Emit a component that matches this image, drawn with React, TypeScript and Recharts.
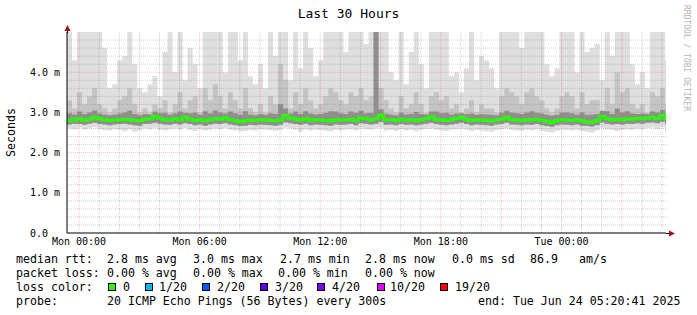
import { ComposedChart, Area, Line, XAxis, YAxis, ReferenceLine } from 'recharts';

// 15 minute buckets starting just before Mon 00:00 (hours relative to Mon 00:00)
const startHour = -0.6;
const stepHours = 0.25;
const endHour = 29.2;

// smoke: top of the lightest band (5 = clipped at top of graph), in ms
const maxRtt = [
  5, 4.3, 5, 5, 5, 5, 5, 4.6, 3.6, 3.7,
  4.3, 4.4, 5, 4.2, 3.6, 3.5, 3.7, 3.9, 3.4, 4.5,
  5, 4.0, 5, 3.8, 4.6, 4.2, 3.6, 5, 5, 5,
  5, 4.0, 5, 5, 4.3, 5, 3.9, 3.7, 4.2, 3.6,
  5, 4.4, 5, 5, 3.8, 5, 4.1, 5, 4.6, 3.9,
  4.3, 5, 5, 5, 5, 4.5, 5, 5, 5, 4.7,
  5, 5, 5, 5, 4.0, 3.8, 5, 3.7, 4.5, 5,
  4.2, 3.6, 5, 5, 5, 5, 3.9, 4.0, 3.5, 4.1,
  5, 3.8, 4.4, 4.3, 4.1, 3.6, 5, 5, 5, 5,
  4.6, 5, 5, 5, 5, 4.2, 3.9, 4.1, 5, 5,
  5, 4.0, 5, 4.5, 4.6, 4.7, 3.8, 5, 4.4, 5,
  5, 5, 4.2, 3.7, 4.0, 3.6, 5, 5, 5, 4.3,
];

const hiRtt = [
  3.3, 3.1, 3.5, 3.2, 3.4, 3.6, 3.2, 3.1, 3.0, 3.1,
  3.3, 3.4, 3.6, 3.2, 3.0, 3.1, 3.0, 3.2, 3.1, 3.3,
  3.0, 3.2, 3.5, 3.1, 3.3, 3.4, 3.0, 3.6, 3.3, 3.7,
  3.4, 3.1, 3.5, 3.3, 3.1, 3.6, 3.1, 3.0, 3.2, 3.0,
  3.4, 3.2, 4.2, 3.8, 3.1, 3.5, 3.2, 3.6, 3.3, 3.1,
  3.2, 3.4, 3.6, 3.5, 3.3, 3.2, 3.5, 3.4, 3.6, 3.3,
  3.4, 5.0, 3.6, 3.3, 3.1, 3.0, 3.4, 3.1, 3.2, 3.5,
  3.2, 3.0, 3.4, 3.5, 3.3, 3.4, 3.1, 3.2, 3.0, 3.1,
  3.3, 3.0, 3.2, 3.1, 3.1, 3.0, 3.4, 3.6, 3.5, 3.4,
  3.2, 3.5, 3.6, 3.4, 3.3, 3.1, 3.0, 3.1, 3.4, 3.5,
  3.4, 3.1, 3.5, 3.2, 3.3, 3.3, 3.0, 3.6, 3.2, 4.0,
  3.5, 3.6, 3.2, 3.1, 3.2, 3.0, 3.5, 3.4, 3.6, 3.2,
];

const p75 = [
  2.98, 2.95, 3.02, 2.96, 3.00, 3.05, 2.97, 2.95, 2.93, 2.95,
  2.97, 3.00, 3.05, 2.96, 2.93, 2.96, 2.95, 3.02, 2.98, 2.99,
  2.94, 2.98, 3.02, 2.99, 2.98, 3.00, 2.94, 3.03, 2.97, 3.05,
  3.00, 2.97, 3.02, 2.98, 2.94, 3.03, 2.95, 2.93, 2.96, 2.94,
  2.98, 2.96, 3.20, 3.10, 2.97, 3.02, 2.96, 3.03, 2.97, 2.95,
  2.96, 2.99, 3.03, 3.02, 2.98, 2.96, 3.02, 2.99, 3.04, 2.98,
  2.99, 5.00, 3.08, 2.97, 2.95, 2.93, 2.99, 2.95, 2.96, 3.01,
  2.96, 2.95, 3.02, 3.02, 2.98, 2.99, 2.95, 2.97, 2.98, 2.96,
  2.97, 2.94, 2.96, 2.95, 2.94, 2.93, 2.99, 3.04, 3.00, 2.98,
  2.96, 3.00, 3.03, 2.99, 2.97, 2.94, 2.92, 2.94, 2.99, 3.00,
  2.98, 2.95, 3.00, 2.94, 2.95, 2.96, 3.04, 3.03, 2.96, 3.10,
  3.00, 3.03, 2.97, 2.96, 2.97, 2.96, 3.02, 3.00, 3.06, 2.96,
];

const median = [
  2.80, 2.82, 2.84, 2.81, 2.83, 2.88, 2.84, 2.82, 2.80, 2.81,
  2.82, 2.83, 2.82, 2.80, 2.79, 2.83, 2.84, 2.90, 2.85, 2.82,
  2.81, 2.84, 2.82, 2.88, 2.83, 2.80, 2.82, 2.79, 2.82, 2.84,
  2.83, 2.87, 2.82, 2.80, 2.77, 2.79, 2.81, 2.80, 2.82, 2.81,
  2.80, 2.79, 2.81, 2.92, 2.86, 2.83, 2.81, 2.84, 2.80, 2.82,
  2.81, 2.80, 2.79, 2.82, 2.81, 2.82, 2.83, 2.80, 2.86, 2.84,
  2.82, 2.84, 2.93, 2.81, 2.82, 2.80, 2.83, 2.81, 2.82, 2.80,
  2.82, 2.84, 2.89, 2.83, 2.81, 2.80, 2.82, 2.85, 2.88, 2.83,
  2.80, 2.82, 2.81, 2.80, 2.79, 2.82, 2.83, 2.88, 2.82, 2.81,
  2.80, 2.82, 2.81, 2.83, 2.80, 2.78, 2.75, 2.80, 2.82, 2.81,
  2.80, 2.82, 2.79, 2.77, 2.76, 2.80, 2.90, 2.84, 2.82, 2.83,
  2.82, 2.84, 2.83, 2.85, 2.84, 2.86, 2.88, 2.85, 2.92, 2.83,
];

const p25 = [
  2.70, 2.72, 2.71, 2.69, 2.72, 2.74, 2.71, 2.70, 2.68, 2.70,
  2.71, 2.72, 2.70, 2.68, 2.67, 2.71, 2.72, 2.74, 2.72, 2.70,
  2.69, 2.72, 2.70, 2.73, 2.71, 2.68, 2.70, 2.67, 2.70, 2.72,
  2.71, 2.73, 2.70, 2.68, 2.66, 2.67, 2.69, 2.68, 2.70, 2.69,
  2.68, 2.67, 2.69, 2.75, 2.73, 2.71, 2.69, 2.72, 2.68, 2.70,
  2.69, 2.68, 2.67, 2.70, 2.69, 2.70, 2.71, 2.68, 2.73, 2.72,
  2.70, 2.72, 2.76, 2.69, 2.70, 2.68, 2.71, 2.69, 2.70, 2.68,
  2.70, 2.72, 2.74, 2.71, 2.69, 2.68, 2.70, 2.72, 2.74, 2.71,
  2.68, 2.70, 2.69, 2.68, 2.67, 2.70, 2.71, 2.74, 2.70, 2.69,
  2.68, 2.70, 2.69, 2.71, 2.68, 2.66, 2.64, 2.68, 2.70, 2.69,
  2.68, 2.70, 2.67, 2.66, 2.65, 2.68, 2.75, 2.72, 2.70, 2.71,
  2.70, 2.72, 2.71, 2.73, 2.72, 2.74, 2.75, 2.73, 2.77, 2.71,
];

const minRtt = [
  2.60, 2.58, 2.62, 2.57, 2.60, 2.63, 2.59, 2.56, 2.55, 2.58,
  2.57, 2.53, 2.58, 2.52, 2.55, 2.60, 2.58, 2.62, 2.56, 2.55,
  2.58, 2.60, 2.57, 2.61, 2.56, 2.54, 2.58, 2.55, 2.57, 2.60,
  2.58, 2.61, 2.57, 2.55, 2.53, 2.54, 2.56, 2.55, 2.58, 2.57,
  2.56, 2.54, 2.57, 2.62, 2.60, 2.57, 2.52, 2.58, 2.55, 2.57,
  2.56, 2.54, 2.53, 2.57, 2.55, 2.57, 2.58, 2.55, 2.60, 2.58,
  2.57, 2.60, 2.62, 2.55, 2.57, 2.54, 2.58, 2.55, 2.56, 2.53,
  2.57, 2.59, 2.60, 2.57, 2.55, 2.54, 2.57, 2.58, 2.60, 2.57,
  2.54, 2.57, 2.55, 2.53, 2.52, 2.56, 2.58, 2.60, 2.56, 2.55,
  2.54, 2.57, 2.55, 2.58, 2.54, 2.51, 2.50, 2.54, 2.57, 2.56,
  2.55, 2.57, 2.54, 2.52, 2.50, 2.55, 2.62, 2.58, 2.56, 2.54,
  2.56, 2.58, 2.57, 2.60, 2.58, 2.61, 2.62, 2.59, 2.63, 2.50,
];

const xTicks = [0, 6, 12, 18, 24];
const xTickLabels = ['Mon 00:00', 'Mon 06:00', 'Mon 12:00', 'Mon 18:00', 'Tue 00:00'];
const yTicks = [0, 1, 2, 3, 4];
const yTickLabels = ['0.0\u00a0\u00a0', '1.0 m', '2.0 m', '3.0 m', '4.0 m'];

const lossColors = ['#26ff00', '#00b8ff', '#0059ff', '#5e00ff', '#7e00ff', '#dd00ff', '#ff0000'];
const lossLabels = ['0', '1/20', '2/20', '3/20', '4/20', '10/20', '19/20'];

const rows: any[] = median.map((m, i) => ({
  t: startHour + i * stepHours,
  outer: [minRtt[i], maxRtt[i]],
  mid: [p25[i], hiRtt[i]],
  core: [p25[i], p75[i]],
  median: m,
}));
// close the last step at the right edge
rows.push({ ...rows[rows.length - 1], t: endHour });

const minorY: number[] = [];
for (let v = 0.2; v < 5; v += 0.2) {
  if (Math.abs(v - Math.round(v)) > 0.01) minorY.push(Math.round(v * 10) / 10);
}
const majorY = [1, 2, 3, 4];
const minorX: number[] = [];
const majorX: number[] = [];
for (let h = 0; h <= 29; h++) (h % 3 === 0 ? majorX : minorX).push(h);

const mono = '"DejaVu Sans Mono", monospace';

const legendRows: [number, string][][] = [
  [[16, 'median rtt:'], [107, '2.8 ms avg'], [193, '3.0 ms max'], [280, '2.7 ms min'], [365, '2.8 ms now'], [452, '0.0 ms sd'], [530, '86.9'], [579, 'am/s']],
  [[16, 'packet loss:'], [107, '0.00 % avg'], [193, '0.00 % max'], [278, '0.00 % min'], [365, '0.00 % now']],
  [[16, 'loss color:']],
  [[16, 'probe:'], [107, '20 ICMP Echo Pings (56 Bytes) every 300s'], [478, 'end: Tue Jun 24 05:20:41 2025']],
];
const swatchX = [108, 145, 202, 260, 317, 377, 440];
const swatchTextX = [123, 159, 217, 275, 332, 390, 455];

const minorGrid = 'rgba(120,120,120,0.35)';
const majorGrid = 'rgba(230,80,80,0.35)';

export default function App() {
  return (
    <div style={{ position: 'fixed', left: 0, top: 0, width: 697, height: 315, background: '#fff', fontFamily: mono, color: '#000' }}>
      <div style={{ position: 'absolute', top: 6, left: 0, width: 697, textAlign: 'center', fontSize: 13, lineHeight: '16px' }}>
        Last 30 Hours
      </div>
      <div style={{ position: 'absolute', left: 4, top: 108, fontSize: 11.6, lineHeight: '14px', writingMode: 'vertical-rl', transform: 'rotate(180deg)' }}>
        Seconds
      </div>
      <div style={{ position: 'absolute', left: 681, top: 5, fontSize: 8, lineHeight: '10px', color: '#b4b4b4', writingMode: 'vertical-rl', whiteSpace: 'pre' }}>
        RRDTOOL / TOBI OETIKER
      </div>

      <div style={{ position: 'absolute', left: 0, top: 0 }}>
        <ComposedChart width={697} height={315} data={rows} margin={{ top: 32, right: 31, left: 10, bottom: 62 }}>
          <XAxis
            dataKey="t"
            type="number"
            domain={[startHour, endHour]}
            allowDataOverflow
            ticks={xTicks}
            tickFormatter={(v) => xTickLabels[xTicks.indexOf(v)]}
            axisLine={{ stroke: '#000' }}
            tickLine={false}
            tickSize={0}
            tickMargin={5}
            height={20}
            tick={{ fontFamily: mono, fontSize: 10, fill: '#000' }}
          />
          <YAxis
            type="number"
            domain={[0, 5]}
            allowDataOverflow
            ticks={yTicks}
            tickFormatter={(v) => yTickLabels[yTicks.indexOf(v)]}
            axisLine={{ stroke: '#000' }}
            tickLine={false}
            tickSize={0}
            tickMargin={7}
            width={57}
            tick={{ fontFamily: mono, fontSize: 10, fill: '#000', style: { whiteSpace: 'pre' } }}
          />
          <Area type="stepAfter" dataKey="outer" stroke="none" fill="#dfdfdf" fillOpacity={1} isAnimationActive={false} />
          <Area type="stepAfter" dataKey="mid" stroke="none" fill="#c4c4c4" fillOpacity={1} isAnimationActive={false} />
          <Area type="stepAfter" dataKey="core" stroke="none" fill="#8f8f8f" fillOpacity={1} isAnimationActive={false} />
          {minorY.map((v) => (
            <ReferenceLine key={'my' + v} y={v} stroke={minorGrid} strokeDasharray="1 1" />
          ))}
          {minorX.map((v) => (
            <ReferenceLine key={'mx' + v} x={v} stroke={minorGrid} strokeDasharray="1 1" />
          ))}
          {majorY.map((v) => (
            <ReferenceLine key={'My' + v} y={v} stroke={majorGrid} strokeDasharray="1 1" />
          ))}
          {majorX.map((v) => (
            <ReferenceLine key={'Mx' + v} x={v} stroke={majorGrid} strokeDasharray="1 1" />
          ))}
          <Line type="stepAfter" dataKey="median" stroke="#26ff00" strokeWidth={3} dot={false} isAnimationActive={false} />
        </ComposedChart>
      </div>

      <svg width={697} height={315} style={{ position: 'absolute', left: 0, top: 0, pointerEvents: 'none' }}>
        <line x1={67.5} y1={28} x2={67.5} y2={33} stroke="#000" />
        <line x1={666} y1={233.5} x2={670} y2={233.5} stroke="#000" />
        <polygon points="64.5,31 70.5,31 67.5,25" fill="#a01010" />
        <polygon points="669,230.5 669,236.5 675,233.5" fill="#a01010" />
      </svg>

      {legendRows.map((row, r) =>
        row.map(([x, s], j) => (
          <div key={r + '-' + j} style={{ position: 'absolute', left: x, top: 252 + r * 14, fontSize: 11.6, lineHeight: '14px', whiteSpace: 'pre' }}>
            {s}
          </div>
        ))
      )}
      {lossColors.map((c, i) => (
        <div key={'sw' + i}>
          <div style={{ position: 'absolute', left: swatchX[i], top: 283, width: 6, height: 6, background: c, border: '1px solid #000' }} />
          <div style={{ position: 'absolute', left: swatchTextX[i], top: 280, fontSize: 11.6, lineHeight: '14px', whiteSpace: 'pre' }}>
            {lossLabels[i]}
          </div>
        </div>
      ))}
    </div>
  );
}
